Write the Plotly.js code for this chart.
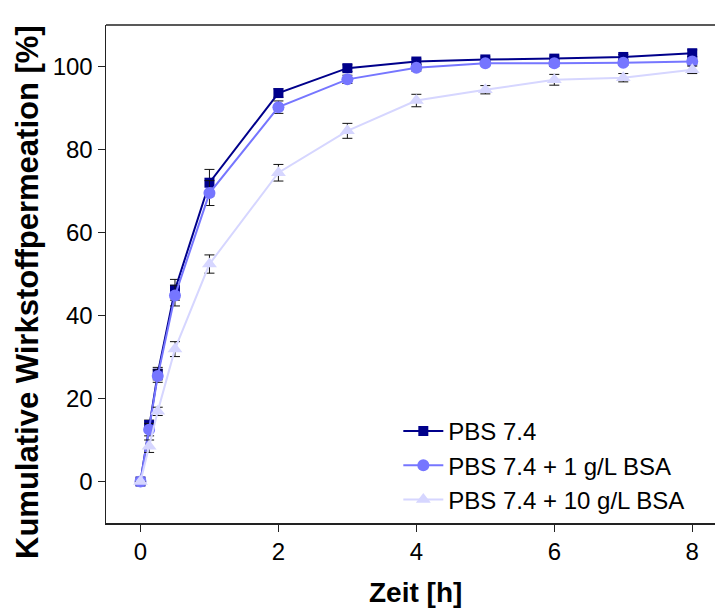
<!DOCTYPE html>
<html>
<head>
<meta charset="utf-8">
<script src="https://cdn.plot.ly/plotly-3.0.1.min.js"></script>
<style>html,body{margin:0;padding:0;background:#fff;}#chart{width:715px;height:611px;}</style>
</head>
<body>
<div id="chart"></div>
<script>
const time = [0, 0.125, 0.25, 0.5, 1, 2, 3, 4, 5, 6, 7, 8];
const seriesNames = ["PBS 7.4", "PBS 7.4 + 1 g/L BSA", "PBS 7.4 + 10 g/L BSA"];
const pbs = [0, 13.6, 26.0, 46.2, 72.0, 93.6, 99.6, 101.2, 101.7, 101.9, 102.3, 103.2];
const pbsErr = [0, 1.2, 1.5, 2.5, 3.2, 1.0, 0.8, 0.6, 0.6, 0.6, 0.6, 0.8];
const bsa1 = [0, 12.5, 25.4, 44.8, 69.5, 90.2, 96.9, 99.7, 100.8, 100.8, 100.9, 101.2];
const bsa1Err = [0, 1.5, 1.5, 2.5, 3.0, 1.5, 1.0, 0.8, 0.6, 0.8, 0.6, 0.8];
const bsa10 = [0, 8.5, 16.9, 31.9, 52.4, 74.4, 84.5, 91.8, 94.4, 96.8, 97.3, 99.2];
const bsa10Err = [0, 1.5, 1.0, 1.8, 2.2, 2.0, 1.8, 1.5, 1.0, 1.3, 1.0, 0.9];
const xTicks = [0, 2, 4, 6, 8];
const yTicks = [0, 20, 40, 60, 80, 100];
const xTitle = "Zeit [h]";
const yTitle = "Kumulative Wirkstoffpermeation [%]";

const colors = ["#00008b", "#7676ff", "#d6d6ff"];
const symbols = ["square", "circle", "triangle-up"];
const sizes = [10, 12, 13];
const ys = [pbs, bsa1, bsa10];
const errs = [pbsErr, bsa1Err, bsa10Err];

const traces = ys.map((y, i) => ({
  x: time, y: y, name: seriesNames[i], type: "scatter", mode: "lines+markers",
  line: {color: colors[i], width: 2},
  marker: {color: colors[i], symbol: symbols[i], size: sizes[i]},
  error_y: {type: "data", array: errs[i], visible: true, color: "#111", thickness: 1, width: 5}
}));

const font = "'Liberation Sans', Arial, sans-serif";
const layout = {
  width: 715, height: 611,
  margin: {l: 106, r: 0, t: 25, b: 88},
  paper_bgcolor: "#fff", plot_bgcolor: "#fff",
  font: {family: font, size: 24, color: "#000"},
  showlegend: true,
  legend: {x: 0.48, y: 0.229, xanchor: "left", yanchor: "top", bgcolor: "rgba(0,0,0,0)",
           font: {family: font, size: 24, color: "#000"}, tracegroupgap: 0, itemwidth: 40},
  xaxis: {range: [-0.5, 8.33], tickvals: xTicks, ticktext: xTicks.map(String),
          showgrid: false, zeroline: false, showline: true, linecolor: "#222", linewidth: 1.5,
          ticks: "outside", ticklen: 7, tickwidth: 1.2, tickcolor: "#222",
          tickfont: {family: font, size: 24}},
  yaxis: {range: [-10, 110], tickvals: yTicks, ticktext: yTicks.map(String),
          showgrid: false, zeroline: false, showline: true, linecolor: "#222", linewidth: 1.5,
          ticks: "outside", ticklen: 7, tickwidth: 1.2, tickcolor: "#222",
          tickfont: {family: font, size: 24}},
  annotations: [
    {text: "<b>" + xTitle + "</b>", xref: "paper", yref: "paper", x: 0.509, y: -0.14,
     xanchor: "center", yanchor: "middle", showarrow: false, font: {family: font, size: 28}},
    {text: "<b>" + yTitle + "</b>", xref: "paper", yref: "paper", x: -0.128, y: 0.464,
     xanchor: "center", yanchor: "middle", textangle: -90, showarrow: false, font: {family: font, size: 31}}
  ],
  shapes: [{type: "line", xref: "paper", yref: "paper", x0: 0, x1: 1, y0: 1, y1: 1,
            line: {color: "#222", width: 1.5}}]
};
Plotly.newPlot("chart", traces, layout, {displayModeBar: false, staticPlot: true});
</script>
</body>
</html>
